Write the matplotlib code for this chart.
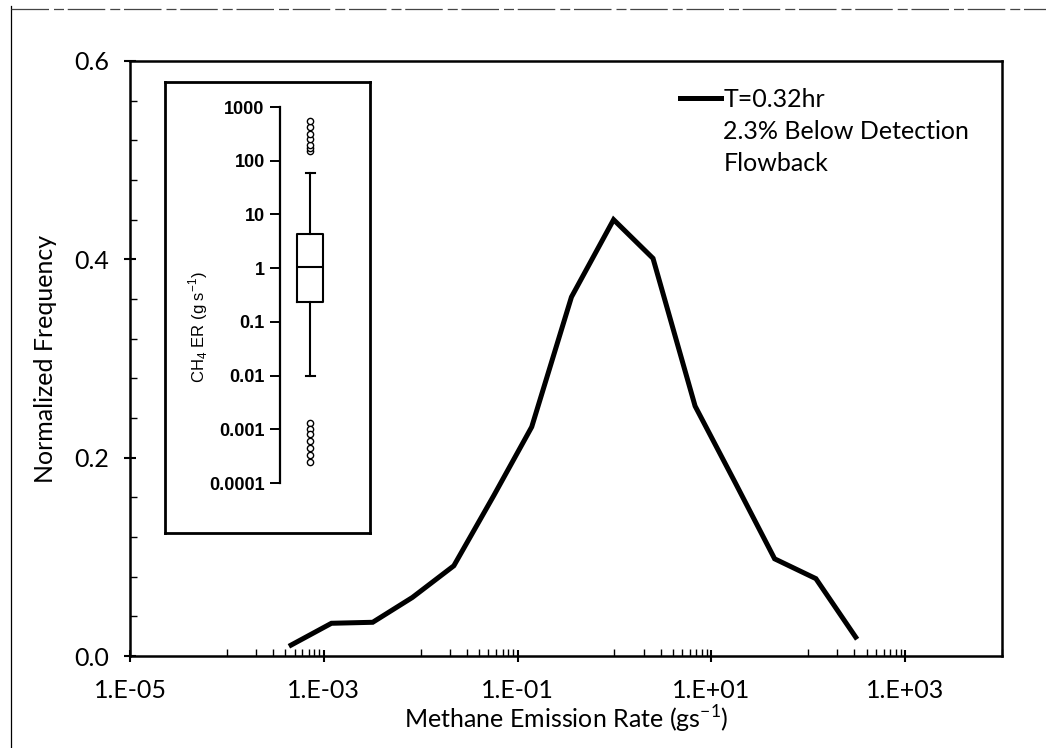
import matplotlib
matplotlib.use("Agg")
import matplotlib.pyplot as plt
from matplotlib.lines import Line2D
from matplotlib.ticker import FixedLocator, MultipleLocator, NullFormatter, NullLocator

# ---------------- data ----------------
emission_rate = [4.6e-4, 1.2e-3, 3.2e-3, 8.2e-3, 2.2e-2, 5.7e-2, 0.14, 0.36,
                 0.98, 2.5, 6.8, 17.6, 45, 120, 309]
norm_freq = [0.011, 0.033, 0.034, 0.059, 0.091, 0.162, 0.231, 0.362,
             0.440, 0.401, 0.252, 0.175, 0.098, 0.078, 0.019]
series_label = "T=0.32hr"
note_lines = ["2.3% Below Detection", "Flowback"]

x_major_ticks = [1e-5, 1e-3, 1e-1, 1e1, 1e3]
x_tick_labels = ["1.E-05", "1.E-03", "1.E-01", "1.E+01", "1.E+03"]
x_minor_ticks = [k * 10.0 ** e for e in (-4, -2, 0, 2) for k in range(1, 10)] + [1e4]
y_major_ticks = [0.0, 0.2, 0.4, 0.6]

# inset box plot statistics (g/s)
box_q1 = 0.23
box_median = 1.05
box_q3 = 4.4
whisker_low = 0.01
whisker_high = 58
fliers_high = [150, 170, 200, 250, 320, 420, 550]
fliers_low = [0.0013, 0.001, 0.0008, 0.0006, 0.00045, 0.00033, 0.00025]
inset_ticks = [1e-4, 1e-3, 1e-2, 1e-1, 1, 10, 100, 1000]
inset_tick_labels = ["0.0001", "0.001", "0.01", "0.1", "1", "10", "100", "1000"]

# ---------------- figure ----------------
W, H = 1046, 748
fig = plt.figure(figsize=(W / 100, H / 100), dpi=100)
main_font = "Lato"
FS = 18

def fx(px):
    return px / W

def fy(py):
    return 1 - py / H

ax = fig.add_axes([fx(130), fy(656), fx(1002) - fx(130), fy(61) - fy(656)])
ax.plot(emission_rate, norm_freq, color="black", lw=3.6, solid_joinstyle="miter")
ax.set_xscale("log")
ax.set_xlim(1e-5, 1e4)
ax.set_ylim(0, 0.6)

ax.xaxis.set_major_locator(FixedLocator(x_major_ticks))
ax.set_xticklabels(x_tick_labels)
ax.xaxis.set_minor_locator(FixedLocator(x_minor_ticks))
ax.xaxis.set_minor_formatter(NullFormatter())
ax.yaxis.set_major_locator(FixedLocator(y_major_ticks))
ax.set_yticklabels([f"{v:.1f}" for v in y_major_ticks])
ax.yaxis.set_minor_locator(MultipleLocator(0.04))

ax.tick_params(which="major", direction="inout", length=9, width=1.5,
               labelsize=FS)
ax.tick_params(axis="x", which="major", pad=12)
ax.tick_params(axis="y", which="major", pad=10.5)
ax.tick_params(which="minor", direction="in", length=5, width=1.0)
for lab in ax.get_xticklabels() + ax.get_yticklabels():
    lab.set_fontfamily(main_font)
for sp in ax.spines.values():
    sp.set_linewidth(1.8)

ax.set_xlabel("Methane Emission Rate (gs$^{\\mathregular{-1}}$)", fontsize=FS,
              fontfamily=main_font, labelpad=1)
ax.set_ylabel("Normalized Frequency", fontsize=FS, fontfamily=main_font, labelpad=12)

handles = [Line2D([], [], color="black", lw=3.6)] + \
          [Line2D([], [], color="none") for _ in note_lines]
leg = ax.legend(handles, [series_label] + note_lines, loc="upper left",
                bbox_to_anchor=((680 - 130) / 872, 1 - (88 - 61) / 595),
                frameon=False, handlelength=1.65, handletextpad=0.08,
                labelspacing=0.36, borderaxespad=0, borderpad=0,
                prop={"family": main_font, "size": FS})

# ---------------- inset ----------------
inset = fig.add_axes([fx(165), fy(533), fx(370) - fx(165), fy(82) - fy(533)])
inset.set_xticks([])
inset.set_yticks([])
for sp in inset.spines.values():
    sp.set_linewidth(2.0)

bax = fig.add_axes([fx(280), fy(483), fx(340) - fx(280), fy(107) - fy(483)])
bax.patch.set_alpha(0)
stats = [{"med": box_median, "q1": box_q1, "q3": box_q3,
          "whislo": whisker_low, "whishi": whisker_high,
          "fliers": fliers_high + fliers_low, "label": ""}]
bax.bxp(stats, positions=[0.5], widths=0.43, capwidths=0.15, showfliers=True,
        boxprops={"color": "black", "lw": 1.5},
        medianprops={"color": "black", "lw": 1.5},
        whiskerprops={"color": "black", "lw": 1.5},
        capprops={"color": "black", "lw": 1.5},
        flierprops={"marker": "o", "markersize": 4.5, "markerfacecolor": "white",
                    "markeredgecolor": "black", "markeredgewidth": 1.0})
bax.set_yscale("log")
bax.set_ylim(1e-4, 1e3)
bax.set_xlim(0, 1)
bax.yaxis.set_major_locator(FixedLocator(inset_ticks))
bax.set_yticklabels(inset_tick_labels)
bax.yaxis.set_minor_locator(NullLocator())
bax.set_xticks([])
for s in ("top", "right", "bottom"):
    bax.spines[s].set_visible(False)
bax.spines["left"].set_linewidth(1.6)
bax.tick_params(axis="y", direction="out", length=7, width=1.4, pad=4)
for lab in bax.get_yticklabels():
    lab.set_fontfamily("Liberation Sans")
    lab.set_fontweight("bold")
    lab.set_fontsize(13)

fig.text(fx(198), fy(327), "CH$_\\mathregular{4}$ ER (g s$^{\\mathregular{-1}}$)",
         rotation=90, ha="center", va="center", fontsize=12,
         fontfamily="Liberation Sans")

# scan page border
fig.add_artist(Line2D([fx(11), fx(11)], [0, fy(6)], transform=fig.transFigure,
                      color="black", lw=0.9))
fig.add_artist(Line2D([fx(11), 1], [fy(9), fy(9)], transform=fig.transFigure,
                      color="#444444", lw=0.9, dashes=(30, 4, 8, 3)))

fig.savefig("out.png", dpi=100)
